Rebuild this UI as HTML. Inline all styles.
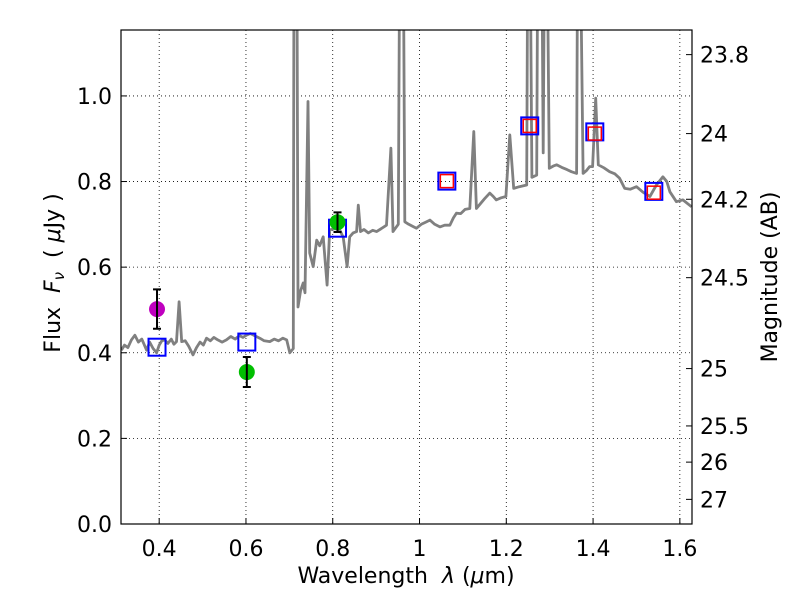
<!DOCTYPE html>
<html><head><meta charset="utf-8"><style>
body{margin:0;background:#fff}
svg text{font-family:"DejaVu Sans","Liberation Sans",sans-serif;fill:#000}
</style></head><body>
<svg id="chart" width="800" height="600" xmlns="http://www.w3.org/2000/svg">
<rect width="800" height="600" fill="#fff"/>
<defs><clipPath id="clip"><rect x="121" y="30" width="571" height="494"/></clipPath></defs>
<g id="grid"></g>
<g id="spec" clip-path="url(#clip)"></g>
<g id="marks"></g>
<rect x="121" y="30" width="571" height="494" fill="none" stroke="#000" stroke-width="1.2"/>
<g id="axes"></g>
<text x="406" y="583" font-size="22" text-anchor="middle">Wavelength&#160;&#160;<tspan font-style="italic">λ</tspan>&#160;(<tspan font-style="italic">μ</tspan>m)</text>
<text transform="translate(60,273) rotate(-90)" font-size="22" text-anchor="middle">Flux&#160;&#160;<tspan font-style="italic">F</tspan><tspan font-style="italic" font-size="15" dy="4">ν</tspan><tspan dy="-4">&#160;&#160;(&#160;</tspan><tspan font-style="italic">μ</tspan>Jy&#160;)</text>
<text transform="translate(777,277) rotate(-90)" font-size="22" text-anchor="middle">Magnitude (AB)</text>
</svg>
<script>
const specLam=[0.313,0.320,0.328,0.336,0.344,0.352,0.360,0.366,0.371,0.378,0.386,0.394,0.400,0.406,0.413,0.420,0.428,0.434,0.440,0.446,0.452,0.460,0.468,0.478,0.486,0.494,0.502,0.509,0.518,0.526,0.535,0.545,0.555,0.565,0.575,0.585,0.593,0.601,0.610,0.620,0.632,0.642,0.655,0.665,0.675,0.685,0.694,0.701,0.709,0.711,0.717,0.720,0.726,0.732,0.736,0.743,0.747,0.755,0.763,0.770,0.778,0.787,0.793,0.805,0.816,0.824,0.833,0.839,0.847,0.855,0.859,0.864,0.872,0.882,0.892,0.901,0.912,0.924,0.934,0.939,0.945,0.951,0.955,0.962,0.966,0.975,0.985,0.993,1.004,1.014,1.024,1.035,1.047,1.058,1.070,1.078,1.085,1.095,1.105,1.116,1.125,1.131,1.140,1.150,1.162,1.170,1.177,1.188,1.199,1.208,1.217,1.230,1.247,1.250,1.254,1.259,1.270,1.273,1.281,1.285,1.289,1.293,1.299,1.308,1.316,1.328,1.340,1.350,1.362,1.365,1.369,1.377,1.385,1.392,1.399,1.406,1.412,1.425,1.438,1.450,1.461,1.473,1.486,1.500,1.515,1.531,1.546,1.561,1.570,1.577,1.592,1.607,1.627];
const specFlux=[0.406,0.418,0.412,0.430,0.441,0.425,0.432,0.418,0.406,0.425,0.410,0.400,0.418,0.428,0.430,0.422,0.432,0.420,0.426,0.519,0.426,0.428,0.415,0.395,0.412,0.425,0.418,0.434,0.428,0.436,0.430,0.425,0.430,0.438,0.432,0.440,0.436,0.441,0.445,0.440,0.434,0.428,0.426,0.432,0.428,0.434,0.430,0.400,0.410,1.5,1.5,0.507,0.545,0.563,0.540,0.987,0.633,0.601,0.663,0.650,0.671,0.558,0.687,0.690,0.687,0.670,0.601,0.671,0.680,0.683,0.745,0.683,0.688,0.680,0.686,0.683,0.690,0.698,0.878,0.683,0.692,0.700,1.5,1.5,0.706,0.700,0.695,0.691,0.700,0.705,0.710,0.700,0.694,0.698,0.698,0.715,0.726,0.725,0.735,0.737,0.917,0.737,0.748,0.760,0.773,0.765,0.757,0.762,0.765,0.909,0.784,0.788,0.792,1.5,1.5,0.810,0.815,1.5,1.5,0.867,1.5,1.5,0.831,0.836,0.839,0.833,0.828,0.823,0.819,1.5,1.5,0.819,0.826,0.835,0.835,0.995,0.839,0.832,0.823,0.818,0.808,0.784,0.782,0.788,0.775,0.765,0.792,0.811,0.800,0.776,0.753,0.757,0.741];
const obsLam=[0.395,0.602,0.811];
const obsFlux=[0.502,0.355,0.705];
const obsErr=[0.046,0.035,0.023];
const obsColor=['#bf00bf','#00bf00','#00bf00'];
const modelLam=[0.395,0.602,0.811,1.063,1.254,1.404,1.540];
const modelFlux=[0.413,0.425,0.691,0.801,0.930,0.916,0.777];
const nirLam=[1.063,1.254,1.404,1.540];
const nirFlux=[0.801,0.930,0.912,0.774];
const xTicks=[0.4,0.6,0.8,1.0,1.2,1.4,1.6];
const xTickLabels=['0.4','0.6','0.8','1','1.2','1.4','1.6'];
const yTicks=[0,0.2,0.4,0.6,0.8,1.0];
const yTickLabels=['0.0','0.2','0.4','0.6','0.8','1.0'];
const magTicks=[23.8,24,24.2,24.5,25,25.5,26,27];
const magLabels=['23.8','24','24.2','24.5','25','25.5','26','27'];

const X0=0.312,X1=1.628,Y0=0,Y1=1.154,L=121,R=692,T=30,B=524;
const sx=v=>L+(v-X0)/(X1-X0)*(R-L);
const sy=v=>B-(v-Y0)/(Y1-Y0)*(B-T);
const NS='http://www.w3.org/2000/svg';
function mk(tag,attrs,parent){const e=document.createElementNS(NS,tag);for(const k in attrs)e.setAttribute(k,attrs[k]);parent.appendChild(e);return e;}
const grid=document.getElementById('grid'),axes=document.getElementById('axes'),spec=document.getElementById('spec'),marks=document.getElementById('marks');

xTicks.forEach((t,i)=>{const x=sx(t);
 let g=mk('line',{x1:x,x2:x,y1:T,y2:B,stroke:'#000','stroke-width':0.8,'stroke-dasharray':'1,3'},grid);
 
 let tk=mk('line',{x1:x,x2:x,y1:B,y2:B-6,stroke:'#000'},axes);
 
 let lb=mk('text',{x:x,y:B+32,'font-size':22,'text-anchor':'middle'},axes);lb.textContent=xTickLabels[i];
 
});
yTicks.forEach((t,i)=>{const y=sy(t);
 let g=mk('line',{x1:L,x2:R,y1:y,y2:y,stroke:'#000','stroke-width':0.8,'stroke-dasharray':'1,3'},grid);
 
 let tk=mk('line',{x1:L,x2:L+6,y1:y,y2:y,stroke:'#000'},axes);
 
 let lb=mk('text',{x:L-9,y:y+8,'font-size':22,'text-anchor':'end'},axes);lb.textContent=yTickLabels[i];
 
});
magTicks.forEach((m,i)=>{const f=Math.pow(10,(23.9-m)/2.5);const y=sy(f);
 let tk=mk('line',{x1:R,x2:R-6,y1:y,y2:y,stroke:'#000'},axes);
 
 let lb=mk('text',{x:R+8,y:y+8,'font-size':22},axes);lb.textContent=magLabels[i];
 
});
let d=specLam.map((l,i)=>(i?'L':'M')+sx(l).toFixed(1)+','+sy(specFlux[i]).toFixed(1)).join('');
let p=mk('path',{d:d,fill:'none',stroke:'#808080','stroke-width':2.8,'stroke-linejoin':'round'},spec);


modelLam.forEach((l,i)=>{const x=sx(l),y=sy(modelFlux[i]);
 let r=mk('rect',{x:x-8.5,y:y-8.5,width:17,height:17,fill:'none',stroke:'#0000ff','stroke-width':2},marks);
 
});
nirLam.forEach((l,i)=>{const x=sx(l),y=sy(nirFlux[i]);
 let r=mk('rect',{x:x-6.5,y:y-6.5,width:13,height:13,fill:'none',stroke:'#ff0000','stroke-width':1.5},marks);
 
});
obsLam.forEach((l,i)=>{const x=sx(l),y=sy(obsFlux[i]),y1=sy(obsFlux[i]+obsErr[i]),y2=sy(obsFlux[i]-obsErr[i]);
 let c=mk('circle',{cx:x,cy:y,r:8,fill:obsColor[i]},marks);
 
 let e=mk('path',{d:`M${x},${y1}V${y2}M${x-4},${y1}H${x+4}M${x-4},${y2}H${x+4}`,stroke:'#000','stroke-width':2,fill:'none'},marks);
 
});
</script>
</body></html>
